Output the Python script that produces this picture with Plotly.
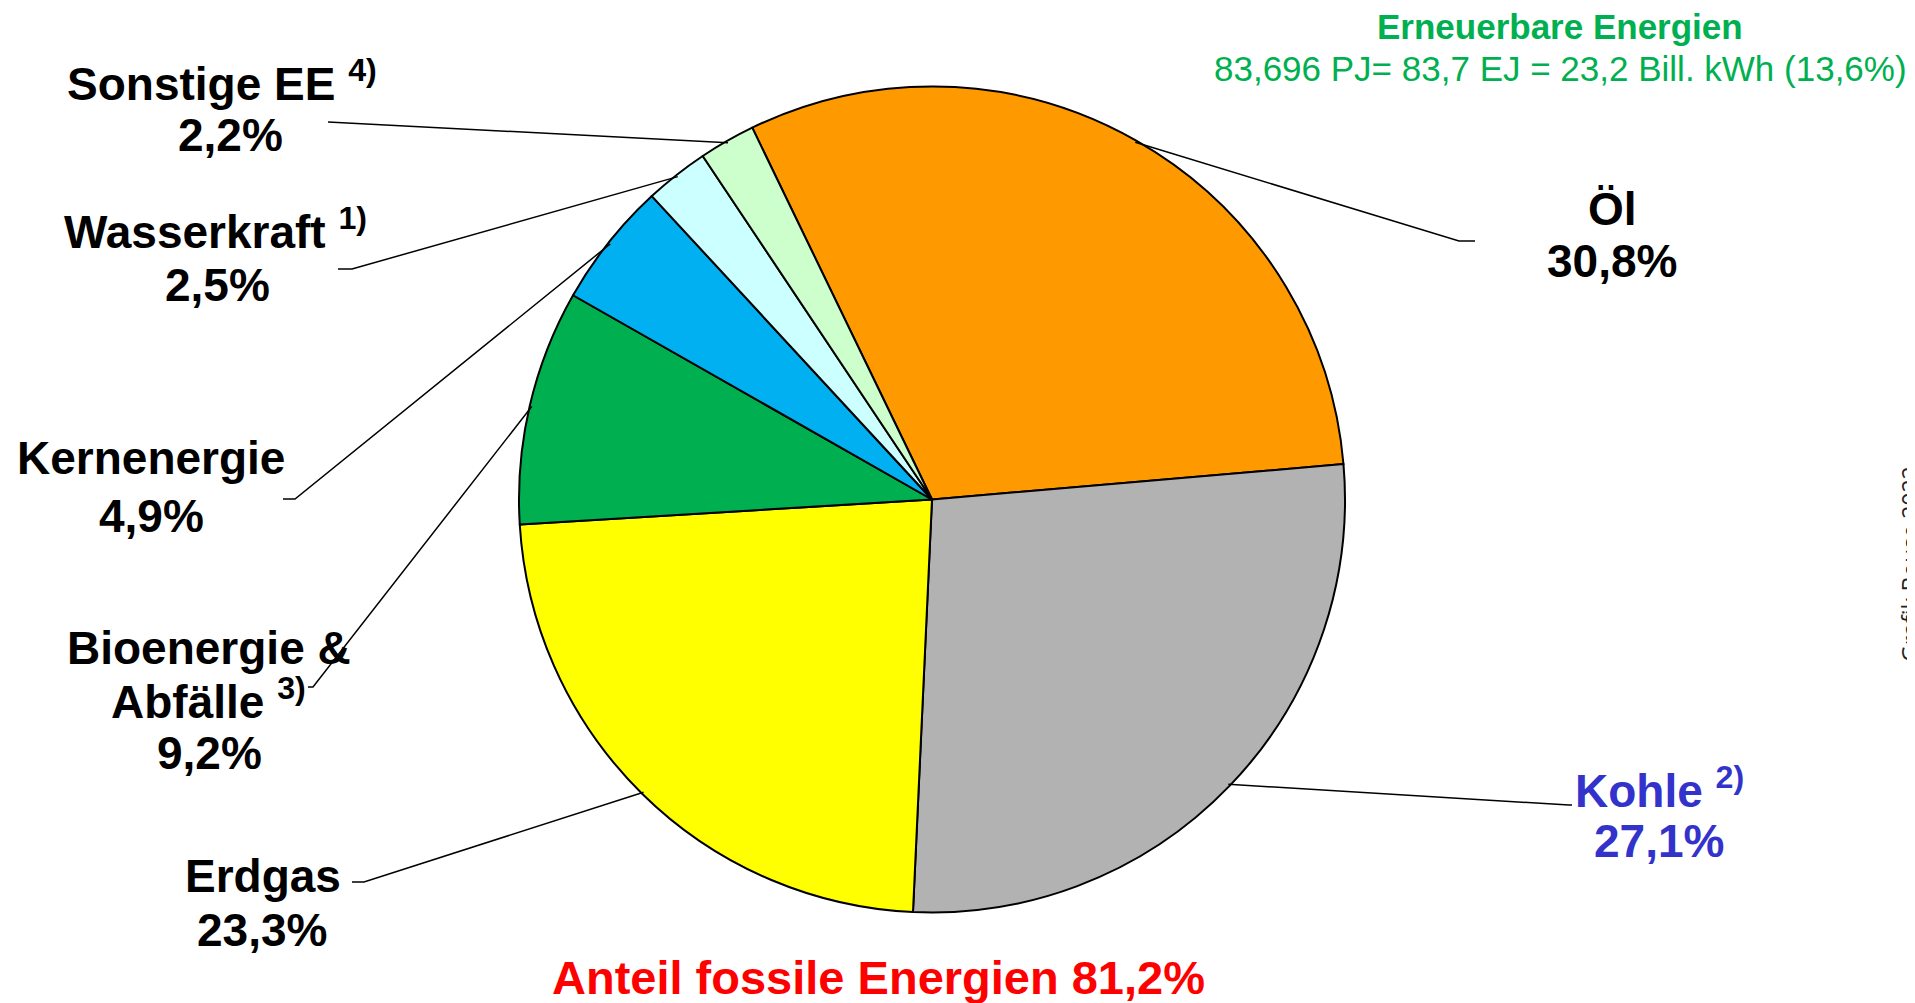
import math
import plotly.graph_objects as go

W, H = 1915, 1003
OFF = 8  # page body margin compensation

# ---- data ----
categories = ["Öl", "Kohle", "Erdgas", "Bioenergie & Abfälle", "Kernenergie", "Wasserkraft", "Sonstige EE"]
shares = [30.8, 27.1, 23.3, 9.2, 4.9, 2.5, 2.2]
colors = ["#FF9900", "#B2B2B2", "#FFFF00", "#00B050", "#00B0F0", "#CCFFFF", "#CCFFCC"]
label_lines = [
    ["Öl", "30,8%"],
    ["Kohle <sup>2)</sup>", "27,1%"],
    ["Erdgas", "23,3%"],
    ["Bioenergie &", "Abfälle <sup>3)</sup>", "9,2%"],
    ["Kernenergie", "4,9%"],
    ["Wasserkraft <sup>1)</sup>", "2,5%"],
    ["Sonstige EE <sup>4)</sup>", "2,2%"],
]
title_ee = "Erneuerbare Energien"
subtitle_ee = "83,696 PJ= 83,7 EJ = 23,2 Bill. kWh (13,6%)"
fossil_text = "Anteil fossile Energien 81,2%"
credit = "Grafik Bouse 2022"

# ---- layout parameters (pixels, reference screen coordinates) ----
CX, CY, R = 932, 499.5, 413
ROT = -25.8
FONT = "Liberation Sans, Arial, sans-serif"
LS = 46  # label font size
DY = -1  # vertical anchor correction

label_pos = [
    [(1612, 210), (1612, 262)],
    [(1659, 789), (1659, 842)],
    [(263, 877), (262, 931)],
    [(209, 649), (208, 700), (209, 754)],
    [(151, 459), (151, 517)],
    [(215, 230), (217, 286)],
    [(222, 82), (230, 136)],
]
label_colors = ["black", "#3333CC", "black", "black", "black", "black", "black"]
leader_start = [
    [(1475, 241), (1459, 241)],
    [(1572, 805), (1569, 805)],
    [(352, 882), (364, 882)],
    [(308, 687), (313, 687)],
    [(283, 499), (295, 499)],
    [(338, 269), (352, 269)],
    [(328, 122)],
]


def px(x):
    return (x - OFF) / W


def py(y):
    return 1 - (y - OFF) / H


fig = go.Figure()
fig.add_trace(go.Pie(
    labels=categories, values=shares, sort=False, direction="clockwise",
    rotation=ROT, textinfo="none", hoverinfo="label+percent",
    marker=dict(colors=colors, line=dict(color="black", width=2)),
    domain=dict(x=[px(CX - R), px(CX + R)], y=[py(CY + R), py(CY - R)]),
    showlegend=False,
))

shapes = []
annotations = []
cum = 0.0
total = sum(shares)
for i, v in enumerate(shares):
    mid = ROT + (cum + v / 2) / total * 360.0
    cum += v
    a = math.radians(mid)
    ex, ey = CX + R * 0.995 * math.sin(a), CY - R * 0.995 * math.cos(a)
    pts = leader_start[i] + [(ex, ey)]
    path = "M " + " L ".join(f"{px(x)},{py(y)}" for x, y in pts)
    shapes.append(dict(type="path", xref="paper", yref="paper", path=path,
                       line=dict(color="black", width=1.5)))
    for txt, (x, y) in zip(label_lines[i], label_pos[i]):
        annotations.append(dict(
            text=f"<b>{txt}</b>", x=px(x), y=py(y + DY), xref="paper", yref="paper",
            xanchor="center", yanchor="middle", showarrow=False,
            font=dict(family=FONT, size=LS, color=label_colors[i])))

annotations += [
    dict(text=f"<b>{title_ee}</b>", x=px(1560), y=py(26), xref="paper", yref="paper",
         xanchor="center", yanchor="middle", showarrow=False,
         font=dict(family=FONT, size=35, color="#00B050")),
    dict(text=subtitle_ee, x=px(1560), y=py(69), xref="paper", yref="paper",
         xanchor="center", yanchor="middle", showarrow=False,
         font=dict(family=FONT, size=35, color="#00B050")),
    dict(text=f"<b>{fossil_text}</b>", x=px(878), y=py(977), xref="paper", yref="paper",
         xanchor="center", yanchor="middle", showarrow=False,
         font=dict(family=FONT, size=47, color="#FF0000")),
    dict(text=credit, x=px(1910), y=py(564), xref="paper", yref="paper",
         xanchor="center", yanchor="middle", showarrow=False, textangle=-90,
         font=dict(family="Open Sans, sans-serif", size=23, color="#222222")),
]

fig.update_layout(
    width=W, height=H, margin=dict(l=0, r=0, t=0, b=0),
    paper_bgcolor="white", plot_bgcolor="white",
    shapes=shapes, annotations=annotations,
)
fig.write_html("out.html")
